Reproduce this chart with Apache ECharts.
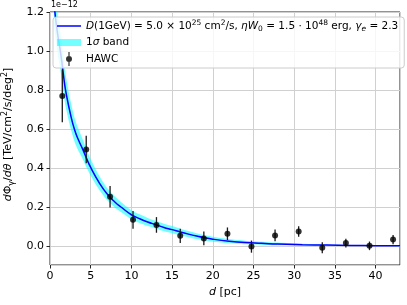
<!DOCTYPE html>
<html><head><meta charset="utf-8">
<script src="https://cdn.jsdelivr.net/npm/echarts@6/dist/echarts.min.js"></script>
<style>html,body{margin:0;padding:0;background:#fff}#c{width:407px;height:305px}</style>
</head><body><div id="c"></div>
<script>
// HAWC data points (units of 1e-12)
const hawcD   = [1.51, 4.45, 7.38, 10.2, 13.08, 16.0, 18.9, 21.8, 24.75, 27.65, 30.55, 33.45, 36.35, 39.25, 42.15];
const hawcY   = [0.771, 0.497, 0.255, 0.137, 0.111, 0.055, 0.042, 0.066, 0.0, 0.057, 0.077, -0.006, 0.018, 0.004, 0.036];
const hawcErr = [0.135, 0.07, 0.055, 0.045, 0.04, 0.037, 0.035, 0.032, 0.031, 0.03, 0.027, 0.028, 0.022, 0.022, 0.024];
// model curve
const modelD  = [0.5, 0.6, 0.8, 1.0, 1.27, 1.5, 1.8, 2.0, 2.5, 3.0, 3.5, 4.0, 4.5, 5.0, 6.0, 7.0, 8.0, 8.8, 10, 11, 12, 13, 14, 15, 16, 17, 18, 19, 20, 22, 24, 26, 28, 31, 34, 37, 40, 43];
const modelY  = [1.24, 1.20, 1.13, 1.07, 1.00, 0.93, 0.83, 0.78, 0.68, 0.60, 0.545, 0.50, 0.45, 0.405, 0.33, 0.27, 0.227, 0.20, 0.163, 0.143, 0.126, 0.112, 0.098, 0.087, 0.075, 0.064, 0.054, 0.045, 0.038, 0.028, 0.021, 0.017, 0.013, 0.010, 0.008, 0.006, 0.005, 0.004];
const bandLo  = [1.13, 1.095, 1.03, 0.97, 0.905, 0.84, 0.745, 0.70, 0.61, 0.538, 0.489, 0.45, 0.404, 0.363, 0.294, 0.239, 0.199, 0.174, 0.140, 0.121, 0.105, 0.092, 0.079, 0.069, 0.058, 0.048, 0.039, 0.031, 0.025, 0.017, 0.0115, 0.0085, 0.0055, 0.005, 0.005, 0.004, 0.003, 0.0025];
const bandHi  = [1.35, 1.305, 1.23, 1.17, 1.095, 1.02, 0.915, 0.86, 0.75, 0.662, 0.601, 0.55, 0.496, 0.447, 0.366, 0.301, 0.255, 0.226, 0.186, 0.165, 0.147, 0.132, 0.117, 0.105, 0.092, 0.080, 0.069, 0.059, 0.051, 0.039, 0.0305, 0.0255, 0.0205, 0.015, 0.011, 0.008, 0.007, 0.0055];

const FONT = 'DejaVu Sans';
const chart = echarts.init(document.getElementById('c'), null, {renderer: 'canvas'});

const modelName = 'model';
const bandName = 'band';
const hawcName = 'HAWC';

const rich = {
  it: {fontStyle: 'italic', fontFamily: FONT, fontSize: 10.5, color: '#000'},
  sup: {fontSize: 7.5, fontFamily: FONT, verticalAlign: 'top', color: '#000', lineHeight: 14},
  sub: {fontSize: 7.5, fontFamily: FONT, verticalAlign: 'bottom', color: '#000', lineHeight: 14},
  subi: {fontSize: 7.5, fontFamily: FONT, fontStyle: 'italic', verticalAlign: 'bottom', color: '#000', lineHeight: 14},
  n: {fontSize: 10.5, fontFamily: FONT, color: '#000'}
};

const option = {
  animation: false,
  backgroundColor: '#fff',
  grid: {left: 50, right: 7, top: 12, bottom: 40, show: true, borderColor: '#262626', borderWidth: 1,
    containLabel: false, outerBoundsMode: 'none'},
  xAxis: {
    type: 'value', min: 0, max: 43, interval: 5,
    axisLine: {show: false, onZero: false},
    axisTick: {show: true, length: 3.5, lineStyle: {color: '#262626'}},
    axisLabel: {fontFamily: FONT, fontSize: 11, color: '#000', margin: 6, showMaxLabel: false},
    splitLine: {show: true, lineStyle: {color: '#d0d0d0', width: 1}},
    name: '{it|d} [pc]', nameLocation: 'middle', nameGap: 22,
    nameTextStyle: {fontFamily: FONT, fontSize: 11, color: '#000', rich: {it: {fontStyle: 'italic', fontFamily: FONT, fontSize: 11, color: '#000'}}}
  },
  yAxis: {
    type: 'value', min: -0.094, max: 1.2, splitNumber: 6,
    axisLine: {show: false, onZero: false},
    axisTick: {show: true, length: 3.5, lineStyle: {color: '#262626'}},
    axisLabel: {fontFamily: FONT, fontSize: 11, color: '#000', margin: 6, showMinLabel: false,
      formatter: v => v.toFixed(1)},
    splitLine: {show: true, lineStyle: {color: '#d0d0d0', width: 1}},
    name: '{it|d}Φ{sub|γ}/{it|dθ} [TeV/cm{sup|2}/s/deg{sup|2}]', nameLocation: 'middle', nameGap: 29, nameRotate: 90,
    nameTextStyle: {fontFamily: FONT, fontSize: 11, color: '#000', padding: [0, 0, 0, 8], rich: {
      it: {fontStyle: 'italic', fontFamily: FONT, fontSize: 11, color: '#000'},
      sub: {fontSize: 8, fontFamily: FONT, verticalAlign: 'bottom', lineHeight: 15, color: '#000'},
      sup: {fontSize: 8, fontFamily: FONT, verticalAlign: 'top', lineHeight: 15, color: '#000'}
    }}
  },
  legend: {
    orient: 'vertical', left: 53, top: 17, width: 343,
    itemWidth: 24, itemHeight: 14, itemGap: 2.5,
    padding: [2, 6, 2, 4],
    backgroundColor: 'rgba(255,255,255,0.8)', borderColor: '#cccccc', borderWidth: 1, borderRadius: 3,
    textStyle: {fontFamily: FONT, fontSize: 10.5, color: '#000', rich: rich, lineHeight: 14},
    data: [
      {name: modelName, icon: 'path://M0,0 L24,0 L24,1.5 L0,1.5 Z', itemStyle: {color: '#0000ff'}},
      {name: bandName, icon: 'path://M0,0 L24,0 L24,7 L0,7 Z', itemStyle: {color: 'rgba(0,255,255,0.55)'}},
      {name: hawcName, icon: 'path://M2.4,0 L3.6,0 L3.6,14 L2.4,14 Z M3,4 A3,3 0 1 1 3,10 A3,3 0 1 1 3,4 Z', itemStyle: {color: '#000'}}
    ],
    formatter: function (name) {
      if (name === modelName) return '{it|D}{n|(1GeV) = 5.0 × 10}{sup|25}{n| cm}{sup|2}{n|/s, }{it|ηW}{sub|0}{n| = 1.5 · 10}{sup|48}{n| erg, }{it|γ}{subi|e}{n| = 2.3}';
      if (name === bandName) return '{n|1}{it|σ}{n| band}';
      return '{n|HAWC}';
    },
    selectedMode: false
  },
  graphic: [
    {type: 'text', left: 51, top: 1, style: {text: '1e−12', font: '8px "DejaVu Sans"', fill: '#000'}}
  ],
  series: [
    {
      name: bandName, type: 'custom', z: 1, silent: true,
      data: [0],
      itemStyle: {color: 'rgba(0,255,255,0.55)'},
      renderItem: function (params, api) {
        const pts = [];
        for (let i = 0; i < modelD.length; i++) pts.push(api.coord([modelD[i], bandHi[i]]));
        for (let i = modelD.length - 1; i >= 0; i--) pts.push(api.coord([modelD[i], bandLo[i]]));
        const cs = params.coordSys;
        return {
          type: 'group',
          clipPath: {type: 'rect', shape: {x: cs.x, y: cs.y, width: cs.width, height: cs.height}},
          children: [{type: 'polygon', shape: {points: pts, smooth: 0.25},
            style: {fill: 'rgba(0,255,255,0.55)', stroke: null}}]
        };
      }
    },
    {
      name: modelName, type: 'line', smooth: true, symbol: 'none',
      data: modelD.map((d, i) => [d, modelY[i]]),
      lineStyle: {color: '#0000ff', width: 1.5}, z: 2
    },
    {
      name: '_err', type: 'custom', z: 3,
      data: hawcD.map((d, i) => [d, hawcY[i], hawcErr[i]]),
      renderItem: function (params, api) {
        const x = api.value(0), y = api.value(1), e = api.value(2);
        const p1 = api.coord([x, y + e]);
        const p2 = api.coord([x, y - e]);
        return {type: 'line', shape: {x1: p1[0], y1: p1[1], x2: p2[0], y2: p2[1]},
          style: {stroke: '#1a1a1a', lineWidth: 1.3}};
      }
    },
    {
      name: hawcName, type: 'scatter', symbol: 'circle', symbolSize: 6, z: 4,
      data: hawcD.map((d, i) => [d, hawcY[i]]),
      itemStyle: {color: '#000'}
    }
  ]
};
chart.setOption(option);
</script>
</body></html>
